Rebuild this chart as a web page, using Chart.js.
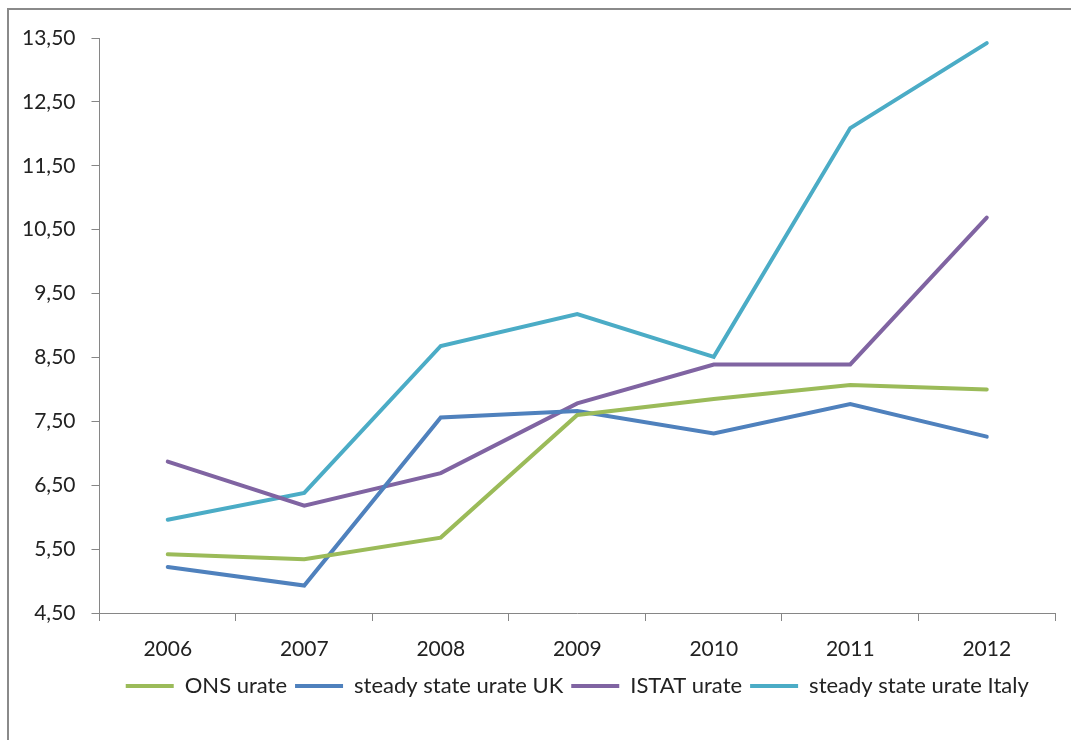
<!DOCTYPE html>
<html>
<head>
<meta charset="utf-8">
<script src="https://cdn.jsdelivr.net/npm/chart.js@4.4.1/dist/chart.umd.min.js"></script>
<style>
  html, body { margin: 0; padding: 0; background: #fff; overflow: hidden; }
  #wrap { position: relative; width: 1071px; height: 740px; }
  #frame { position: absolute; left: 7px; top: 8px; width: 1200px; height: 900px;
           border-top: 2px solid #8a8a8a; border-left: 2px solid #8a8a8a; box-sizing: border-box; }
  canvas { position: absolute; left: 0; top: 0; }
</style>
</head>
<body>
<div id="wrap">
  <div id="frame"></div>
  <canvas id="c" width="1071" height="740"></canvas>
</div>
<script>
const years = ['2006', '2007', '2008', '2009', '2010', '2011', '2012'];
const onsUrate = [5.42, 5.34, 5.68, 7.60, 7.85, 8.07, 8.00];
const steadyUK = [5.22, 4.93, 7.56, 7.66, 7.31, 7.77, 7.26];
const istatUrate = [6.87, 6.18, 6.69, 7.78, 8.39, 8.39, 10.69];
const steadyItaly = [5.96, 6.38, 8.68, 9.18, 8.51, 12.09, 13.42];
const yTicks = [4.5, 5.5, 6.5, 7.5, 8.5, 9.5, 10.5, 11.5, 12.5, 13.5];

const seriesNames = ['ONS urate', 'steady state urate UK', 'ISTAT urate', 'steady state urate Italy'];
const seriesColors = ['#9BBB59', '#4F81BD', '#8064A2', '#4BACC6'];
const seriesData = [onsUrate, steadyUK, istatUrate, steadyItaly];

const axisColor = '#868686';
const fontFamily = 'Lato, "Open Sans", sans-serif';

// Center the legend row under the plot area rather than the whole canvas
const legendUnderPlot = {
  id: 'legendUnderPlot',
  afterLayout(chart) {
    if (chart.legend) {
      chart.legend.left = chart.chartArea.left;
      chart.legend.right = chart.chartArea.right;
      chart.legend.top -= 11;
      chart.legend.bottom -= 11;
    }
  }
};

new Chart(document.getElementById('c'), {
  type: 'line',
  data: {
    labels: years,
    datasets: seriesNames.map((name, i) => ({
      label: name,
      data: seriesData[i],
      borderColor: seriesColors[i],
      backgroundColor: seriesColors[i],
      borderWidth: 4,
      pointRadius: 0,
      tension: 0,
      borderCapStyle: 'round',
      borderJoinStyle: 'miter',
      fill: false
    }))
  },
  plugins: [legendUnderPlot],
  options: {
    responsive: false,
    animation: false,
    devicePixelRatio: 1,
    layout: { padding: { left: 6, right: 16, top: 38, bottom: 22 } },
    plugins: {
      tooltip: { enabled: false },
      legend: {
        position: 'bottom',
        labels: {
          boxWidth: 48,
          boxHeight: 4,
          padding: 8,
          color: '#222',
          font: { family: fontFamily, size: 22 },
          generateLabels: (chart) => chart.data.datasets.map((ds, i) => ({
            text: ds.label,
            fillStyle: ds.borderColor,
            strokeStyle: ds.borderColor,
            lineWidth: 0,
            hidden: false,
            datasetIndex: i,
            fontColor: '#222'
          }))
        }
      }
    },
    scales: {
      x: {
        type: 'category',
        offset: true,
        grid: { offset: true, drawOnChartArea: false, drawTicks: true, tickLength: 8, color: axisColor, lineWidth: 1 },
        border: { display: true, color: axisColor, width: 1 },
        ticks: { color: '#222', padding: 18, font: { family: fontFamily, size: 21, lineHeight: 1 }, maxRotation: 0 }
      },
      y: {
        min: 4.5,
        max: 13.5,
        afterBuildTicks: (axis) => { axis.ticks = yTicks.map(v => ({ value: v })); },
        grid: { drawOnChartArea: false, drawTicks: true, tickLength: 8, color: axisColor, lineWidth: 1 },
        border: { display: true, color: axisColor, width: 1 },
        ticks: {
          color: '#222',
          padding: 16,
          font: { family: fontFamily, size: 21 },
          callback: (v) => Number(v).toFixed(2).replace('.', ',')
        }
      }
    }
  }
});
</script>
</body>
</html>
